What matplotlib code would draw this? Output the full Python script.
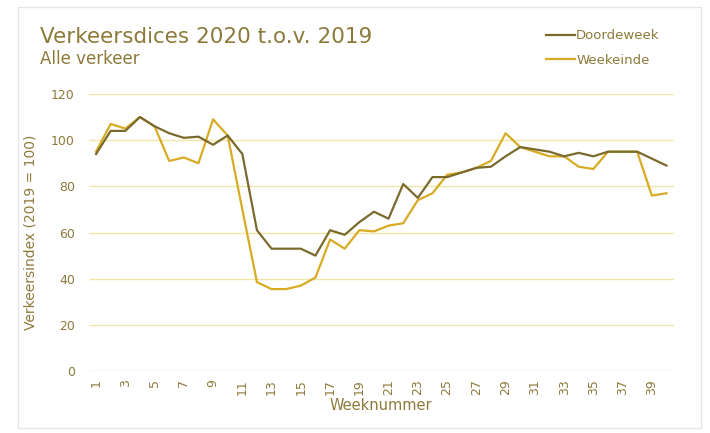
import numpy as np
from matplotlib import pyplot as plt
from matplotlib.patches import Rectangle

# Week numbers and index values (2019 = 100)
weeks = np.arange(1, 41)
doordeweek = [94, 104, 104, 110, 106, 103, 101, 101.5, 98, 102,
              94, 61, 53, 53, 53, 50, 61, 59, 64.5, 69,
              66, 81, 75, 84, 84, 86, 88, 88.5, 93, 97,
              96, 95, 93, 94.5, 93, 95, 95, 95, 92, 89]
weekeinde = [95, 107, 105, 110, 106, 91, 92.5, 90, 109, 102,
             70, 38.5, 35.5, 35.5, 37, 40.5, 57, 53, 61, 60.5,
             63, 64, 74, 77, 85, 86, 88, 91, 103, 97,
             95, 93, 93, 88.5, 87.5, 95, 95, 95, 76, 77]
xtick_weeks = list(range(1, 40, 2))

text_col = "#8c7a3a"
dark_col = "#7b6a2e"
gold_col = "#d8ab24"
grid_col = "#efe7a8"

fig = plt.figure(figsize=(7.1, 4.33), dpi=100)
ax = fig.add_axes([0.125, 0.143, 0.824, 0.64])

# light frame around the whole chart
fig.patches.append(Rectangle((0.025, 0.012), 0.962, 0.972, transform=fig.transFigure,
                             fill=False, edgecolor="#e6e6e6", linewidth=1))

for y in range(20, 121, 20):
    ax.axhline(y, color=grid_col, linewidth=1, zorder=0)
ax.axhline(0, color="#dadada", linewidth=1, zorder=0)

ax.plot(weeks, weekeinde, color=gold_col, linewidth=1.6, label="Weekeinde", zorder=2)
ax.plot(weeks, doordeweek, color=dark_col, linewidth=1.6, label="Doordeweek", zorder=3)

ax.set_xlim(0.5, 40.5)
ax.set_ylim(0, 120)
ax.set_yticks(range(0, 121, 20))
ax.set_xticks(xtick_weeks)
ax.set_xticklabels([str(w) for w in xtick_weeks], rotation=90)
ax.tick_params(length=0, colors=text_col, labelsize=9)
ax.tick_params(axis="y", pad=10)
ax.tick_params(axis="x", pad=6)
for s in ax.spines.values():
    s.set_visible(False)

ax.set_xlabel("Weeknummer", color=text_col, fontsize=10.5, labelpad=2)
ax.set_ylabel("Verkeersindex (2019 = 100)", color=text_col, fontsize=10, labelpad=10)

fig.text(0.056, 0.9, "Verkeersdices 2020 t.o.v. 2019", color=text_col, fontsize=15.5)
fig.text(0.056, 0.853, "Alle verkeer", color=text_col, fontsize=12)

handles, labels = ax.get_legend_handles_labels()
leg = ax.legend(handles[::-1], labels[::-1], loc="upper left", bbox_to_anchor=(0.752, 0.96),
                bbox_transform=fig.transFigure, frameon=False, fontsize=9.5,
                handlelength=2.2, handletextpad=0.1, labelspacing=0.9, labelcolor=text_col)

fig.savefig("out.png", dpi=100)
